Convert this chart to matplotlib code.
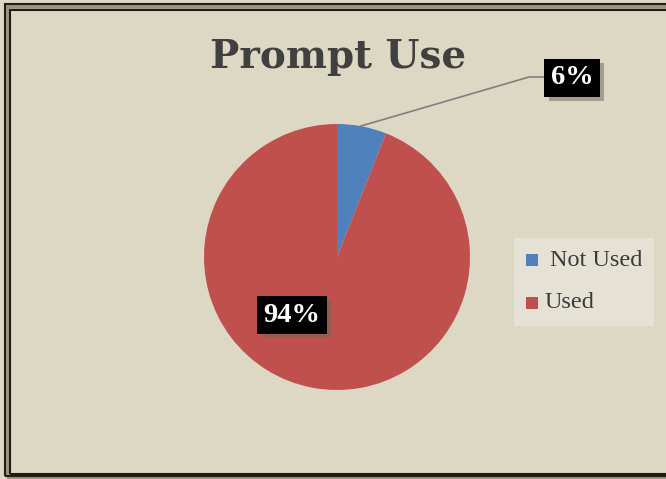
import matplotlib.pyplot as plt
import matplotlib.patches as mpatches
import matplotlib.patheffects as pe

labels = ['Not Used', 'Used']
values = [6, 94]
colors = ['#4F81BD', '#C0504D']

W, H = 666, 479
bg = '#DDD8C3'

fig = plt.figure(figsize=(W / 100, H / 100), dpi=100)
fig.patch.set_facecolor(bg)


def fx(px):
    return px / W


def fy(py):
    return 1 - py / H


# double frame
def frame(x0, y0, x1, y1, color, lw):
    fig.patches.append(mpatches.Rectangle((fx(x0), fy(y1)), fx(x1) - fx(x0), fy(y0) - fy(y1),
                                          transform=fig.transFigure, fill=False,
                                          edgecolor=color, linewidth=lw))

frame(6.5, 5.5, 670, 477, '#9A9682', 4)
frame(4.5, 3.5, 672, 475.5, '#1E1E14', 1.5)
frame(10.5, 9.5, 668, 473.5, '#1E1E14', 1.5)

# pie
cx, cy, r = 337, 257, 133
ax = fig.add_axes([fx(cx - r), fy(cy + r), 2 * r / W, 2 * r / H])
ax.set_facecolor('none')
wedges, _ = ax.pie(values, colors=colors, startangle=90, counterclock=False,
                   radius=1, wedgeprops=dict(linewidth=0))
ax.set_xlim(-1, 1)
ax.set_ylim(-1, 1)
ax.set_aspect('auto')
ax.axis('off')

fig.text(fx(338), fy(57), 'Prompt Use', ha='center', va='center', fontsize=28,
         fontweight='bold', family='DejaVu Serif', color='#404040')

# leader line for small slice
fig.lines.append(plt.Line2D([fx(361), fx(529), fx(543)], [fy(126), fy(77), fy(77)],
                            transform=fig.transFigure, color='#7F7F7F', linewidth=1.2))

shadow = [pe.withSimplePatchShadow(offset=(3, -3), shadow_rgbFace='#6B6858', alpha=0.5)]
for txt, (px, py) in zip([f'{values[0]}%', f'{values[1]}%'], [(572, 78), (292, 315)]):
    t = fig.text(fx(px), fy(py), txt, ha='center', va='center', fontsize=20.5,
                 fontweight='bold', family='Liberation Serif', color='white',
                 bbox=dict(boxstyle='square,pad=0.22', facecolor='black', edgecolor='none'))
    t.get_bbox_patch().set_path_effects(shadow)

# legend
fig.patches.append(mpatches.Rectangle((fx(514), fy(326)), fx(654) - fx(514), fy(238) - fy(326),
                                      transform=fig.transFigure, facecolor='#E5E1D5',
                                      edgecolor='none'))
for lab, col, py, tx in zip(labels, colors, [260, 303], [550, 545]):
    fig.patches.append(mpatches.Rectangle((fx(526), fy(py + 6)), fx(12), 12 / H,
                                          transform=fig.transFigure, facecolor=col,
                                          edgecolor='none'))
    fig.text(fx(tx), fy(py), lab, ha='left', va='center', fontsize=17.5,
             family='Liberation Serif', color='#3A3A3A')

fig.savefig('out.png', dpi=100, facecolor=bg)
